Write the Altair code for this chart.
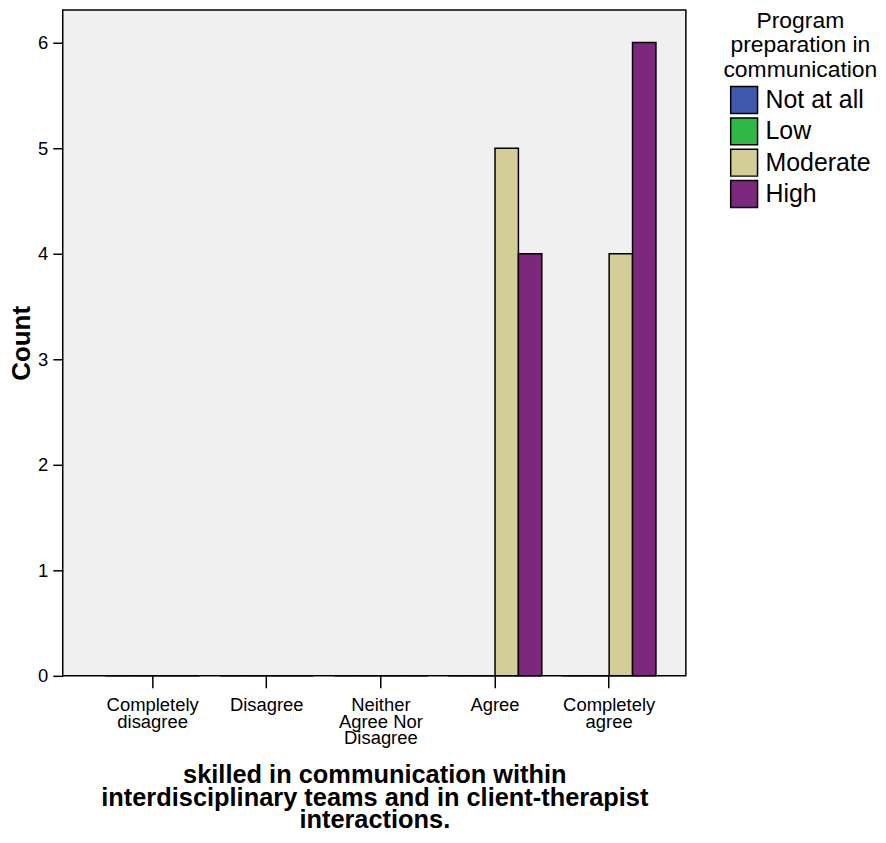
import altair as alt
import pandas as pd

categories = ["Completely|disagree", "Disagree", "Neither|Agree Nor|Disagree", "Agree", "Completely|agree"]
series = ["Not at all", "Low", "Moderate", "High"]
colors = ["#3E58AC", "#2EB848", "#D3CE97", "#7C287D"]
counts = {
    "Not at all": [0, 0, 0, 0, 0],
    "Low":        [0, 0, 0, 0, 0],
    "Moderate":   [0, 0, 0, 5, 4],
    "High":       [0, 0, 0, 4, 6],
}

rows = []
for s in series:
    for c, v in zip(categories, counts[s]):
        rows.append({"cat": c, "prep": s, "count": v})
df = pd.DataFrame(rows)

FONT = "Liberation Sans"

chart = alt.Chart(df).mark_bar(stroke="black", strokeWidth=1.5).encode(
    x=alt.X("cat:N", sort=categories,
            scale=alt.Scale(paddingInner=0.18, paddingOuter=0.32, align=0.59),
            axis=alt.Axis(title=["skilled in communication within",
                                 "interdisciplinary teams and in client-therapist",
                                 "interactions."],
                          labelExpr="split(datum.label, '|')",
                          labelAngle=0, labelFontSize=18.5, labelFont=FONT,
                          labelColor="black", labelLineHeight=16.5, labelPadding=8,
                          tickSize=12, tickColor="black", tickWidth=1.5,
                          domain=False, titleFontSize=25.5, titleFont=FONT,
                          titleFontWeight="bold", titleColor="black", titlePadding=16,
                          titleLineHeight=22.5)),
    xOffset=alt.XOffset("prep:N", sort=series,
                        scale=alt.Scale(paddingInner=0, paddingOuter=0)),
    y=alt.Y("count:Q", scale=alt.Scale(domain=[0, 6.31], nice=False),
            axis=alt.Axis(title="Count", values=[0, 1, 2, 3, 4, 5, 6], format="d",
                          labelFontSize=18.5, labelFont=FONT, labelColor="black",
                          tickSize=10, tickColor="black", tickWidth=1.5, labelPadding=5,
                          domain=False, grid=False, titleFontSize=26,
                          titleFont=FONT, titleFontWeight="bold",
                          titleColor="black", titlePadding=3)),
    color=alt.Color("prep:N", sort=series,
                    scale=alt.Scale(domain=series, range=colors),
                    legend=alt.Legend(title=["Program", "preparation in", "communication"],
                                      titleFontSize=23, titleFont=FONT,
                                      titleFontWeight="normal", titleColor="black",
                                      titleAlign="center", titleAnchor="middle",
                                      titleLineHeight=24.5, titlePadding=4,
                                      labelFontSize=25, labelFont=FONT,
                                      labelColor="black", labelOffset=7,
                                      symbolType="square",
                                      symbolSize=729, symbolStrokeColor="black",
                                      symbolStrokeWidth=1.5, symbolOpacity=1,
                                      rowPadding=-1.5, offset=38, padding=0)),
).properties(
    width=626, height=669,
    padding={"left": 0, "top": 0, "right": 0, "bottom": 0},
).configure_view(
    fill="#F0F0F0", stroke="black", strokeWidth=1.5
)

chart.save("out.html", embed_options={"renderer": "svg", "actions": False})
